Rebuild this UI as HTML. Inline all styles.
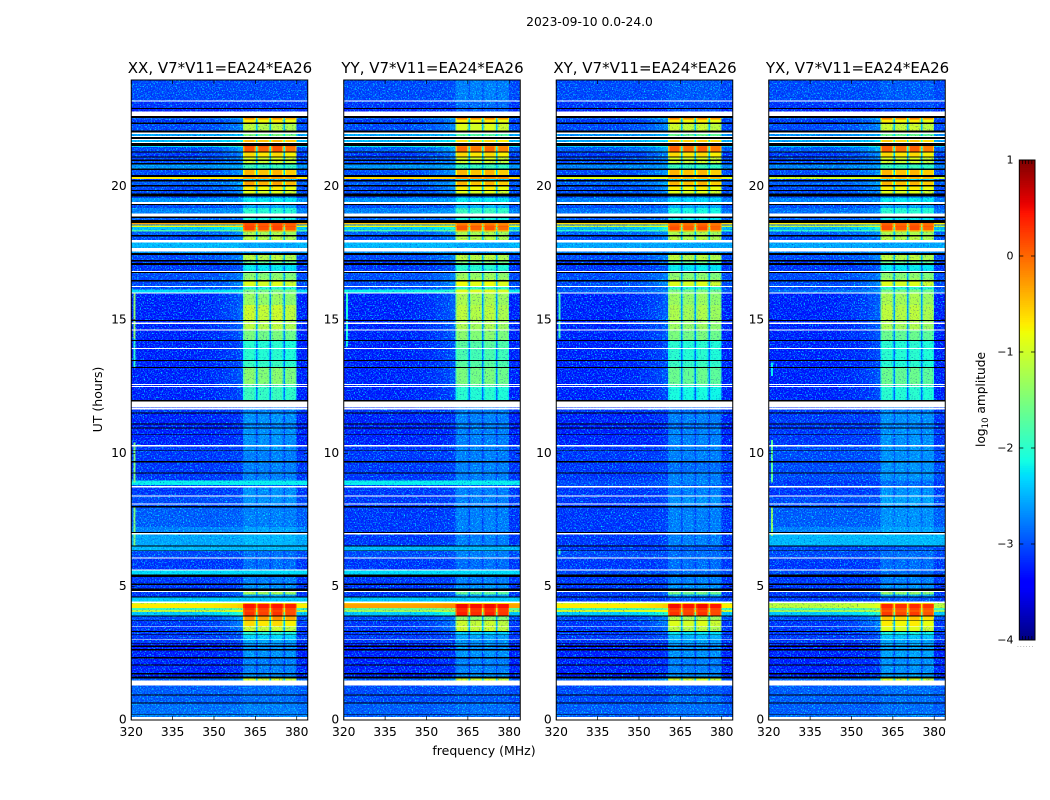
<!DOCTYPE html>
<html lang="en">
<head>
<meta charset="utf-8">
<title>2023-09-10 amplitude waterfall</title>
<style>
html,body{margin:0;padding:0;background:#fff;width:1050px;height:800px;overflow:hidden}
svg{display:block}
text{font-family:"DejaVu Sans","Liberation Sans",sans-serif;fill:#000}
</style>
</head>
<body>
<svg id="figure" xmlns="http://www.w3.org/2000/svg" width="1050" height="800" viewBox="0 0 1050 800">
<defs>
<filter id="speckle" x="0" y="0" width="100%" height="100%" color-interpolation-filters="sRGB">
<feTurbulence type="fractalNoise" baseFrequency="0.72" numOctaves="2" seed="7"/>
<feColorMatrix type="matrix" values="0 0 0 0 0  3.0 0 0 0 -1.5  0 0 0 0 0  0 0 0 0 1"/>
</filter>
<filter id="dark-speckle" x="0" y="0" width="100%" height="100%" color-interpolation-filters="sRGB">
<feTurbulence type="fractalNoise" baseFrequency="0.68" numOctaves="2" seed="23"/>
<feColorMatrix type="matrix" values="0 0 0 0 0  0 0 0 0 0.05  0 0 0 0 0.72  2.2 0 0 0 -1.3"/>
</filter>
</defs>
<text x="589.5" y="26" text-anchor="middle" font-size="12.3">2023-09-10 0.0-24.0</text>
<text x="484" y="755" text-anchor="middle" font-size="12.5">frequency (MHz)</text>
<text transform="translate(102,399.5) rotate(-90)" text-anchor="middle" font-size="12.5">UT (hours)</text>
<text transform="translate(985,399.5) rotate(-90)" text-anchor="middle" font-size="12.2">log<tspan dy="3" font-size="8.5">10</tspan><tspan dy="-3"> amplitude</tspan></text>
<text x="1017" y="647" font-size="6" letter-spacing="1" fill="#777" style="fill:#777">......</text>
</svg>
<script>
/* Time-row boundaries in hours, top of plot to bottom */
const hourEdges = [24.0,23.24,23.20,22.96,22.92,22.83,22.67,22.58,22.54,22.42,22.37,22.12,22.04,21.99,21.92,21.88,21.80,21.77,21.69,21.65,
21.54,21.49,21.33,21.29,21.14,21.10,21.02,20.98,20.89,20.85,20.70,20.64,20.45,20.38,20.30,20.26,20.20,20.08,20.01,19.89,
19.85,19.76,19.64,19.59,19.44,19.36,19.32,19.20,19.01,18.88,18.83,18.76,18.64,18.58,18.55,18.50,18.38,18.32,18.20,18.13,
18.01,17.91,17.70,17.57,17.51,17.44,17.26,17.20,17.14,17.07,16.85,16.80,16.76,16.57,16.50,16.44,16.28,16.24,16.15,16.03,
15.99,15.56,15.00,14.96,14.90,14.86,14.64,14.60,14.25,14.21,13.95,13.91,13.50,13.46,13.23,13.20,12.59,12.56,12.53,12.49,
11.99,11.95,11.72,11.69,11.65,11.53,11.49,11.12,11.08,10.97,10.92,10.71,10.68,10.30,10.25,10.11,10.08,9.70,9.66,9.27,
9.23,8.98,8.80,8.76,8.72,8.42,8.38,8.11,8.08,8.01,7.97,7.23,7.04,7.00,6.95,6.54,6.50,6.35,6.32,6.08,
6.04,5.64,5.60,5.45,5.35,5.10,5.05,4.91,4.82,4.79,4.70,4.62,4.59,4.44,4.38,4.34,4.19,4.12,4.03,3.91,
3.87,3.74,3.71,3.52,3.50,3.32,3.28,3.20,3.17,3.01,2.98,2.87,2.85,2.78,2.72,2.65,2.59,2.34,2.30,2.07,
2.03,1.74,1.69,1.62,1.54,1.47,1.28,0.94,0.90,0.64,0.60,0.21,0.19,0.09,0];

/* d = data, w = flagged (white), k = no signal (black) */
const rowKinds = ("dwdkdwkddk"+"dkwdwkwdwk"+"ddkdkdkdkd"+"kdkddkdkdk"+"dkddwkddwk"+"dkddddddkd"+"wdwdkdkdkd"+"wkddkdwddw"+"ddkdwdwdkd"+"wdkdkdwdwd"+
"kwdwdkdkdk"+"dkdwdkdkdk"+"dddwdwdwdk"+"ddkwdkdkdw"+"dwdkdkdkwd"+"dkdwdddddk"+"dkdwdkdkdw"+"dkdkdkdkdk"+"dkdkdwdkdk"+"dkdw").split("");

/* Frequency channels (MHz) and how far each channel sits from off-band (0) to in-band (1) level */
const channelEdges = [320,345,350,353,356,358.5,360.5,361,364.7,365.2,365.7,366.2,369.7,370.2,370.7,371.2,374.7,375.2,375.7,376.2,379.5,380,384];
const channelResponse = [0,0.02,0.04,0.07,0.1,0.15,0.85,1,0.85,0.3,0.85,0.97,0.85,0.3,0.85,1,0.85,0.3,0.85,0.95,0.8,0];

/* log10 amplitude per data row: off-band and in-band level for each correlation */
const xxOff = [-3.1,-3.2,-3.3,-3.0,-3.2,-3.1,-2.6,-2.5,-2.3,-3.1,
-3.2,-3.1,-3.1,-2.7,-3.1,-0.7,-3.2,-3.0,-3.1,-3.1,
-3.1,-2.7,-3.1,-2.8,-3.0,-0.3,-2.8,-0.8,-2.4,-1.8,
-3.0,-3.1,-2.5,-2.7,-3.1,-3.2,-3.2,-3.1,-3.1,-3.1,
-3.1,-2.3,-3.3,-3.3,-3.3,-3.3,-3.3,-3.3,-3.3,-3.3,
-3.3,-3.3,-3.3,-3.2,-3.2,-3.3,-3.3,-3.3,-3.3,-3.2,
-3.2,-3.2,-3.2,-2.2,-3.1,-3.2,-3.1,-3.1,-3.0,-2.8,
-2.6,-2.5,-3.1,-3.2,-2.3,-3.2,-3.2,-3.2,-3.2,-2.4,
-1.0,-0.7,-1.9,-1.1,-2.4,-3.1,-3.2,-3.2,-3.2,-3.2,
-3.2,-3.3,-3.3,-3.3,-3.3,-3.3,-3.3,-3.0,-3.0,-3.0,-2.9,-2.8];
const xxOn = [-3.1,-3.2,-3.2,-0.2,-0.7,-1.1,-1.5,-0.4,0.15,0.1,
-0.6,-0.9,-1.0,-1.9,-0.4,-0.3,-2.3,-0.3,-0.7,-0.9,
-2.7,-2.2,-2.6,-2.0,-2.1,0.15,0.1,0.2,0.2,-0.2,
-1.2,-1.1,-2.6,-2.7,-1.1,-1.6,-2.2,-1.4,-1.3,-0.9,
-2.0,-1.5,-1.3,-1.0,-1.1,-1.1,-1.5,-2.0,-2.0,-1.9,
-1.4,-1.8,-1.9,-2.8,-2.8,-2.7,-2.8,-2.7,-2.7,-2.7,
-2.8,-2.8,-2.8,-2.2,-3.0,-2.7,-2.7,-2.8,-2.8,-2.6,
-2.5,-2.5,-2.9,-2.9,-2.3,-2.8,-2.7,-1.2,-2.6,-2.4,
-0.4,0.45,0.3,0.2,0.3,-0.2,-0.6,-1.0,-2.0,-2.3,
-2.6,-2.7,-2.7,-2.7,-2.8,-2.8,-2.7,-1.0,-2.9,-2.9,-2.8,-2.8];
const yyOff = [-3.1,-3.2,-3.3,-3.0,-3.2,-3.1,-2.6,-2.5,-2.2,-3.0,
-3.2,-3.1,-3.1,-2.7,-3.1,-0.6,-3.2,-3.0,-3.1,-3.1,
-3.1,-2.7,-3.1,-2.8,-3.0,-0.5,-2.8,-0.8,-2.4,-1.8,
-3.0,-3.1,-2.5,-2.7,-3.1,-3.2,-3.2,-3.1,-3.1,-3.1,
-3.1,-2.2,-3.3,-3.3,-3.3,-3.3,-3.3,-3.3,-3.3,-3.3,
-3.3,-3.3,-3.3,-3.2,-3.2,-3.3,-3.3,-3.3,-3.3,-3.2,
-3.2,-3.2,-3.2,-2.2,-3.1,-3.2,-3.2,-3.2,-3.2,-3.2,
-3.2,-2.5,-3.1,-3.2,-2.3,-3.2,-3.2,-3.2,-3.2,-2.4,
-0.5,-0.3,-1.7,-1.3,-2.4,-3.1,-3.2,-3.2,-3.2,-3.2,
-3.2,-3.3,-3.3,-3.3,-3.3,-3.3,-3.3,-3.0,-3.1,-3.1,-3.0,-3.0];
const yyOn = [-2.8,-2.9,-3.0,-0.1,-0.7,-0.9,-1.7,-0.6,-0.1,0.0,
-0.6,-0.9,-1.0,-1.9,-0.4,-0.2,-2.3,-0.4,-0.7,-0.9,
-2.7,-2.2,-2.5,-1.9,-2.1,-0.1,-0.1,0.1,0.1,-0.3,
-1.2,-1.1,-2.6,-2.7,-1.1,-1.5,-2.0,-1.3,-1.2,-0.8,
-1.9,-0.9,-1.2,-1.1,-1.2,-1.2,-1.4,-1.7,-1.8,-1.7,
-1.5,-1.7,-2.0,-2.8,-2.8,-2.8,-2.8,-2.8,-2.8,-2.8,
-2.8,-2.8,-2.8,-2.2,-3.0,-2.8,-2.8,-2.8,-2.8,-2.8,
-2.8,-2.5,-2.8,-2.9,-2.3,-2.8,-2.7,-1.6,-2.6,-2.4,
-0.6,0.5,0.35,0.3,0.4,-1.4,-1.0,-1.0,-2.3,-2.6,
-2.7,-2.7,-2.7,-2.7,-2.8,-2.8,-2.7,-1.0,-3.0,-3.0,-2.9,-2.9];
const xyOff = [-3.1,-3.2,-3.3,-3.0,-3.2,-3.1,-2.7,-2.6,-2.4,-3.0,
-3.2,-3.1,-3.1,-2.8,-3.1,-0.9,-3.2,-3.0,-3.1,-3.1,
-3.1,-2.8,-3.1,-2.9,-3.0,-0.6,-2.9,-1.0,-2.5,-2.0,
-3.0,-3.1,-2.6,-2.8,-3.1,-3.2,-3.2,-3.1,-3.1,-3.1,
-3.1,-3.0,-3.3,-3.3,-3.3,-3.3,-3.3,-3.3,-3.3,-3.3,
-3.3,-3.3,-3.3,-3.2,-3.2,-3.3,-3.3,-3.3,-3.3,-3.2,
-3.2,-3.2,-3.2,-3.1,-3.1,-3.2,-3.2,-3.2,-3.2,-3.2,
-3.2,-3.2,-3.1,-3.2,-3.1,-3.2,-3.2,-3.2,-3.2,-3.2,
-1.0,-0.7,-1.9,-1.0,-2.4,-3.1,-3.2,-3.2,-3.2,-3.2,
-3.2,-3.3,-3.3,-3.3,-3.3,-3.3,-3.3,-3.0,-3.1,-3.1,-3.0,-3.0];
const xyOn = [-3.0,-3.1,-3.1,-0.1,-0.7,-1.0,-1.6,-0.5,0.0,0.05,
-0.6,-0.9,-1.0,-1.9,-0.4,-0.4,-2.3,-0.4,-0.7,-0.9,
-2.7,-2.3,-2.6,-2.1,-2.2,0.0,0.0,0.1,0.15,-0.3,
-1.2,-1.1,-2.6,-2.7,-1.1,-1.6,-2.2,-1.4,-1.3,-0.9,
-2.0,-1.5,-1.3,-1.2,-1.3,-1.3,-1.5,-2.0,-2.0,-1.9,
-1.6,-1.9,-2.1,-2.9,-2.9,-2.8,-2.9,-2.8,-2.8,-2.8,
-2.8,-2.9,-2.8,-2.8,-3.0,-2.8,-2.7,-2.8,-2.8,-2.8,
-2.8,-3.0,-2.9,-2.9,-2.9,-2.8,-2.7,-1.5,-2.6,-3.0,
-0.5,0.5,0.3,0.2,0.3,-1.2,-0.9,-1.1,-2.2,-2.5,
-2.6,-2.7,-2.7,-2.7,-2.8,-2.8,-2.7,-1.0,-3.0,-2.9,-2.9,-2.9];
const yxOff = [-3.1,-3.2,-3.3,-3.0,-3.2,-3.1,-2.7,-2.6,-2.4,-3.0,
-3.2,-3.1,-3.1,-2.8,-3.1,-1.0,-3.2,-3.0,-3.1,-3.1,
-3.1,-2.8,-3.1,-2.9,-3.0,-0.7,-2.9,-1.1,-2.5,-2.0,
-3.0,-3.1,-2.6,-2.8,-3.1,-3.2,-3.2,-3.1,-3.1,-3.1,
-3.1,-2.9,-3.3,-3.3,-3.3,-3.3,-3.3,-3.3,-3.3,-3.3,
-3.3,-3.3,-3.3,-3.2,-3.2,-3.2,-3.2,-3.2,-3.2,-3.1,
-3.1,-3.1,-3.1,-3.2,-3.1,-3.2,-3.1,-3.1,-3.0,-2.8,
-2.5,-3.1,-3.1,-3.2,-3.1,-3.2,-3.2,-3.2,-3.2,-3.2,
-1.2,-1.1,-1.9,-1.3,-2.4,-3.1,-3.2,-3.2,-3.2,-3.2,
-3.2,-3.3,-3.3,-3.3,-3.3,-3.3,-3.3,-3.0,-3.0,-3.0,-3.0,-2.9];
const yxOn = [-3.0,-3.1,-3.1,-0.1,-0.7,-1.0,-1.6,-0.5,0.05,0.05,
-0.6,-0.9,-1.0,-1.9,-0.4,-0.4,-2.3,-0.4,-0.7,-0.9,
-2.7,-2.2,-2.6,-2.0,-2.2,0.05,0.05,0.15,0.15,-0.3,
-1.2,-1.1,-2.6,-2.7,-1.1,-1.6,-2.2,-1.4,-1.3,-0.9,
-2.0,-1.5,-1.2,-1.1,-1.2,-1.2,-1.6,-2.0,-2.0,-2.0,
-1.6,-1.8,-2.0,-2.8,-2.8,-2.7,-2.8,-2.7,-2.7,-2.7,
-2.7,-2.7,-2.7,-2.9,-2.9,-2.7,-2.6,-2.7,-2.7,-2.6,
-2.5,-3.0,-2.9,-2.9,-2.9,-2.8,-2.7,-1.3,-2.6,-3.0,
-0.5,0.35,0.2,0.1,0.25,-0.5,-0.7,-0.9,-2.1,-2.4,
-2.6,-2.6,-2.6,-2.6,-2.7,-2.7,-2.6,-1.0,-2.9,-2.9,-2.9,-2.8];

/* Narrow interference line near 321 MHz: panel index, start/end hour, level */
const spurPanels = [0,0,0,0,1,1,2,2,3,3,3];
const spurStartHours = [14.3,13.2,8.9,6.5,14.0,15.5,14.3,6.2,8.9,6.9,12.9];
const spurEndHours = [16.0,14.3,10.4,8.0,15.9,16.0,16.0,6.4,10.5,8.0,13.4];
const spurLevels = [-1.4,-2.0,-1.5,-1.5,-2.1,-2.0,-1.9,-1.9,-1.7,-1.4,-2.2];

const panelNames = ["XX","YY","XY","YX"];
const panelOffLevels = [xxOff,yyOff,xyOff,yxOff];
const panelOnLevels = [xxOn,yyOn,xyOn,yxOn];
const panelLefts = [131.25,343.75,556.25,768.75];
const xTicks = [320,335,350,365,380];
const yTicks = [0,5,10,15,20];
const colorbarTicks = [1,0,-1,-2,-3,-4];
const colorbarTickLabels = ["1","0","\u22121","\u22122","\u22123","\u22124"];

const PANEL_WIDTH = 176.5, TOP = 80, BOTTOM = 720, FREQ_MIN = 320, FREQ_MAX = 384;
const NS = "http://www.w3.org/2000/svg";
const figure = document.getElementById("figure");

function make(tag, attrs, parent){
  const node = document.createElementNS(NS, tag);
  for (const k in attrs) node.setAttribute(k, attrs[k]);
  parent.appendChild(node);
  return node;
}
function clamp01(v){ return Math.max(0, Math.min(1, v)); }
function ramp(t, pts){
  for (let i = 1; i < pts.length; i++){
    if (t <= pts[i][0]){
      const a = pts[i-1], b = pts[i];
      return a[1] + (b[1]-a[1]) * (t-a[0]) / (b[0]-a[0]);
    }
  }
  return pts[pts.length-1][1];
}
function levelColor(level){
  const t = clamp01((level + 4) / 5);
  const r = ramp(t, [[0,0],[0.35,0],[0.66,1],[0.89,1],[1,0.5]]);
  const g = ramp(t, [[0,0],[0.125,0],[0.375,1],[0.64,1],[0.91,0],[1,0]]);
  const b = ramp(t, [[0,0.5],[0.11,1],[0.34,1],[0.65,0],[1,0]]);
  return "rgb(" + Math.round(r*255) + "," + Math.round(g*255) + "," + Math.round(b*255) + ")";
}
function hourToY(h){ return 719.5 - h * 26.63; }
function tickY(h){ return BOTTOM - h * (BOTTOM - TOP) / 24; }

panelNames.forEach(function(name, p){
  const left = panelLefts[p];
  const freqToX = function(f){ return left + (f - FREQ_MIN) * PANEL_WIDTH / (FREQ_MAX - FREQ_MIN); };
  const panel = make("g", {}, figure);
  
  

  const clip = make("clipPath", {id: "clip-" + p}, panel);
  make("rect", {x: left, y: TOP, width: PANEL_WIDTH, height: BOTTOM - TOP}, clip);

  const plot = make("g", {"clip-path": "url(#clip-" + p + ")"}, panel);
  
  

  const noisy = make("g", {style: "isolation:isolate", "shape-rendering": "crispEdges"}, plot);
  const smooth = make("g", {"shape-rendering": "crispEdges"}, plot);
  const flags = make("g", {"shape-rendering": "crispEdges"}, plot);

  const offs = panelOffLevels[p], ons = panelOnLevels[p];
  let dataIndex = 0;
  rowKinds.forEach(function(kind, r){
    const y0 = hourToY(hourEdges[r]), y1 = hourToY(hourEdges[r+1]);
    if (kind !== "d"){
      const band = make("rect", {x: left, y: y0, width: PANEL_WIDTH, height: y1 - y0, fill: kind === "w" ? "#ffffff" : "#000000"}, flags);
      
      
      return;
    }
    const off = offs[dataIndex], on = ons[dataIndex];
    dataIndex++;
    channelResponse.forEach(function(weight, c){
      const level = off + weight * (on - off);
      const x0 = freqToX(channelEdges[c]), x1 = freqToX(channelEdges[c+1]);
      const cell = make("rect", {x: x0, y: y0, width: x1 - x0, height: y1 - y0, fill: levelColor(level)}, level > -1.0 ? smooth : noisy);
      
      
    });
  });

  spurPanels.forEach(function(panelIndex, s){
    if (panelIndex !== p) return;
    const yTop = hourToY(spurEndHours[s]), yBot = hourToY(spurStartHours[s]);
    const spur = make("rect", {x: freqToX(320.9), y: yTop, width: freqToX(321.5) - freqToX(320.9), height: yBot - yTop, fill: levelColor(spurLevels[s])}, noisy);
    
    
  });

  const grain = make("rect", {x: left, y: TOP, width: PANEL_WIDTH, height: BOTTOM - TOP, filter: "url(#speckle)", style: "mix-blend-mode:screen"}, noisy);
  
  
  const darkGrain = make("rect", {x: left, y: TOP, width: PANEL_WIDTH, height: BOTTOM - TOP, filter: "url(#dark-speckle)"}, noisy);
  
  

  const frame = make("rect", {x: left, y: TOP, width: PANEL_WIDTH, height: BOTTOM - TOP, fill: "none", stroke: "#000", "stroke-width": 1}, panel);
  
  

  xTicks.forEach(function(f){
    const x = freqToX(f);
    const tickPath = make("path", {d: "M" + x + " " + BOTTOM + "v-4M" + x + " " + TOP + "v4", stroke: "#000", "stroke-width": 0.7, fill: "none"}, panel);
    
    
    const label = make("text", {x: x, y: 736, "text-anchor": "middle", "font-size": 12.3}, panel);
    
    
    label.textContent = f;
  });
  yTicks.forEach(function(h){
    const y = tickY(h);
    const tickPath = make("path", {d: "M" + left + " " + y + "h4M" + (left + PANEL_WIDTH) + " " + y + "h-4", stroke: "#000", "stroke-width": 0.7, fill: "none"}, panel);
    
    
    const label = make("text", {x: left - 4.5, y: y + 3.5, "text-anchor": "end", "font-size": 12.3}, panel);
    
    
    label.textContent = h;
  });

  const title = make("text", {x: left + PANEL_WIDTH / 2 + 0.5, y: 73, "text-anchor": "middle", "font-size": 15}, panel);
  
  
  title.textContent = name + ", V7*V11=EA24*EA26";
});

/* Colour bar */
const CB_LEFT = 1019.3, CB_RIGHT = 1035, CB_TOP = 160, CB_BOTTOM = 640;
const CB_MIN = -4, CB_MAX = 1, CB_STEPS = 256;
function levelToCbY(v){ return CB_BOTTOM - (v - CB_MIN) * (CB_BOTTOM - CB_TOP) / (CB_MAX - CB_MIN); }
const colorbar = make("g", {}, figure);


const ramps = make("g", {"shape-rendering": "crispEdges"}, colorbar);
for (let i = 0; i < CB_STEPS; i++){
  const lo = CB_MIN + i * (CB_MAX - CB_MIN) / CB_STEPS;
  const hi = CB_MIN + (i + 1) * (CB_MAX - CB_MIN) / CB_STEPS;
  const swatch = make("rect", {x: CB_LEFT, y: levelToCbY(hi), width: CB_RIGHT - CB_LEFT, height: levelToCbY(lo) - levelToCbY(hi) + 0.5, fill: levelColor((lo + hi) / 2)}, ramps);
  
  
}
const cbFrame = make("rect", {x: CB_LEFT, y: CB_TOP, width: CB_RIGHT - CB_LEFT, height: CB_BOTTOM - CB_TOP, fill: "none", stroke: "#000", "stroke-width": 1}, colorbar);


colorbarTicks.forEach(function(v, i){
  const y = levelToCbY(v);
  const tickPath = make("path", {d: "M" + CB_LEFT + " " + y + "h4M" + CB_RIGHT + " " + y + "h-4", stroke: "#000", "stroke-width": 0.8, fill: "none"}, colorbar);
  
  
  const label = make("text", {x: 1013.5, y: y + 3.5, "text-anchor": "end", "font-size": 11}, colorbar);
  
  
  label.textContent = colorbarTickLabels[i];
});
[0.2, 0.4, 0.6, 0.8].forEach(function(frac){
  const x = CB_LEFT + frac * (CB_RIGHT - CB_LEFT);
  const minor = make("path", {d: "M" + x + " " + CB_TOP + "v4M" + x + " " + CB_BOTTOM + "v-4", stroke: "#000", "stroke-width": 0.7, fill: "none"}, colorbar);
  
  
});
</script>
</body>
</html>
